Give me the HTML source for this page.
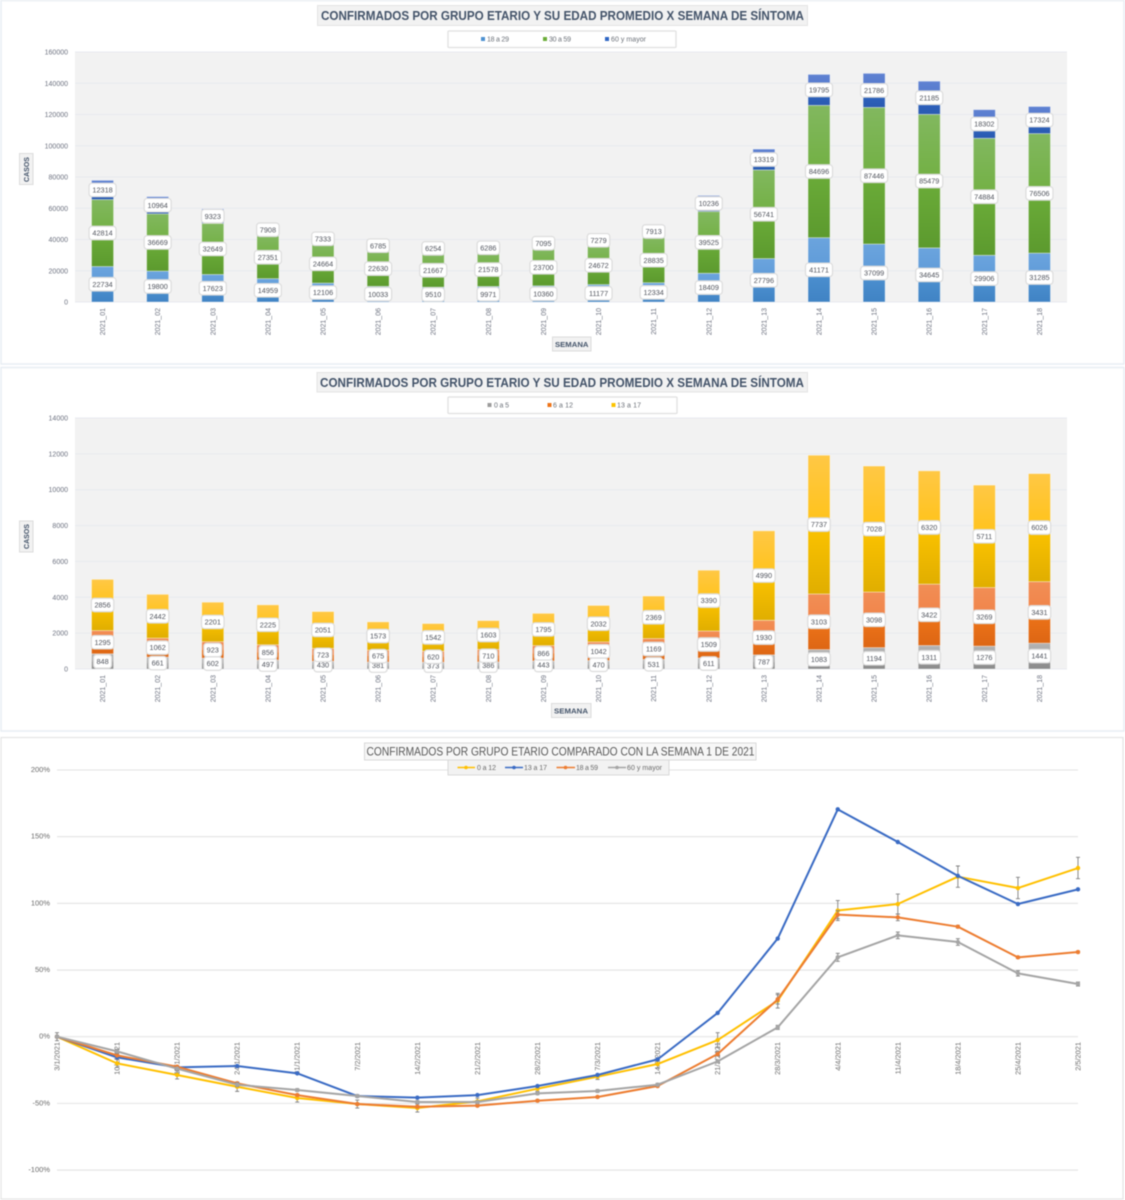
<!DOCTYPE html>
<html lang="es">
<head>
<meta charset="utf-8">
<title>Confirmados por grupo etario</title>
<style>
html,body{margin:0;padding:0;background:#fff;width:1125px;height:1200px;overflow:hidden}
svg{display:block;filter:blur(.4px)}
text{font-family:"Liberation Sans",sans-serif}
</style>
</head>
<body>
<svg xmlns="http://www.w3.org/2000/svg" id="dashboard" width="1125" height="1200" viewBox="0 0 1125 1200">
  <defs>
    <linearGradient id="g-blue" x1="0" y1="0" x2="0" y2="1"><stop offset="0" stop-color="#6ba4de"/><stop offset=".5" stop-color="#5f9bd8"/><stop offset=".5" stop-color="#4d91d1"/><stop offset="1" stop-color="#4083c4"/></linearGradient>
    <linearGradient id="g-green" x1="0" y1="0" x2="0" y2="1"><stop offset="0" stop-color="#82b85f"/><stop offset=".5" stop-color="#72b043"/><stop offset=".5" stop-color="#6bac39"/><stop offset="1" stop-color="#5c9a2e"/></linearGradient>
    <linearGradient id="g-navy" x1="0" y1="0" x2="0" y2="1"><stop offset="0" stop-color="#5f82d2"/><stop offset=".5" stop-color="#5478cc"/><stop offset=".5" stop-color="#2f66c4"/><stop offset="1" stop-color="#2a5ab0"/></linearGradient>
    <linearGradient id="g-gray" x1="0" y1="0" x2="0" y2="1"><stop offset="0" stop-color="#b3b3b3"/><stop offset=".5" stop-color="#a8a8a8"/><stop offset=".5" stop-color="#9c9c9c"/><stop offset="1" stop-color="#8a8a8a"/></linearGradient>
    <linearGradient id="g-orange" x1="0" y1="0" x2="0" y2="1"><stop offset="0" stop-color="#f28e55"/><stop offset=".5" stop-color="#f0844a"/><stop offset=".5" stop-color="#ee7419"/><stop offset="1" stop-color="#dd6614"/></linearGradient>
    <linearGradient id="g-yellow" x1="0" y1="0" x2="0" y2="1"><stop offset="0" stop-color="#ffc845"/><stop offset=".5" stop-color="#ffc31a"/><stop offset=".5" stop-color="#fcc300"/><stop offset="1" stop-color="#e0ae00"/></linearGradient>
  </defs>

  <!-- Panel 1 -->
  <g id="chart1">
    <rect x="1" y="0.5" width="1123" height="363.5" fill="#fff" stroke="#e8edf3" stroke-width="1.5"/>
    <rect x="75" y="52" width="992" height="250" fill="#f2f2f2"/>
    <g id="chart1-grid"></g>
    <g id="chart1-bars"></g>
    <g id="chart1-labels"></g>
    <g>
      <rect x="317.5" y="5.5" width="490" height="20" fill="#f2f2f2" stroke="#e4e4e4"/>
      <text x="321" y="20" font-size="12.5" font-weight="700" fill="#44546a" textLength="483" lengthAdjust="spacingAndGlyphs">CONFIRMADOS POR GRUPO ETARIO Y SU EDAD PROMEDIO X SEMANA DE SÍNTOMA</text>
    </g>
    <g>
      <rect x="448" y="31" width="228" height="16.5" fill="#fff" stroke="#e0e0e0" stroke-width="1.3" rx="1"/>
      <g><rect x="481" y="37" width="4" height="4" fill="#4d91d1"/><text x="487" y="41.5" font-size="7" fill="#6b7078" textLength="22">18 a 29</text></g>
      <g><rect x="543" y="37" width="4" height="4" fill="#6bac39"/><text x="549" y="41.5" font-size="7" fill="#6b7078" textLength="22">30 a 59</text></g>
      <g><rect x="605" y="37" width="4" height="4" fill="#2f66c4"/><text x="611" y="41.5" font-size="7" fill="#6b7078" textLength="35">60 y mayor</text></g>
    </g>
    <g>
      <rect x="19.5" y="153.5" width="13.5" height="31" fill="#f2f2f2" stroke="#dcdcdc"/>
      <text transform="translate(29 182) rotate(-90)" font-size="7.5" font-weight="700" fill="#44546a" textLength="25" lengthAdjust="spacingAndGlyphs">CASOS</text>
    </g>
    <g>
      <rect x="552.5" y="337" width="38.5" height="14" fill="#f2f2f2" stroke="#dcdcdc"/>
      <text x="555" y="347" font-size="7.5" font-weight="700" fill="#44546a" textLength="33.5" lengthAdjust="spacingAndGlyphs">SEMANA</text>
    </g>
  </g>

  <!-- Panel 2 -->
  <g id="chart2">
    <rect x="1" y="367.5" width="1123" height="363.5" fill="#fff" stroke="#e8edf3" stroke-width="1.5"/>
    <rect x="75" y="418" width="992" height="251" fill="#f2f2f2"/>
    <g id="chart2-grid"></g>
    <g id="chart2-bars"></g>
    <g id="chart2-labels"></g>
    <g>
      <rect x="317" y="372.5" width="490.5" height="19.5" fill="#f2f2f2" stroke="#e4e4e4"/>
      <text x="320" y="387" font-size="12.5" font-weight="700" fill="#44546a" textLength="484" lengthAdjust="spacingAndGlyphs">CONFIRMADOS POR GRUPO ETARIO Y SU EDAD PROMEDIO X SEMANA DE SÍNTOMA</text>
    </g>
    <g>
      <rect x="448" y="397" width="229" height="16.5" fill="#fff" stroke="#e0e0e0" stroke-width="1.3" rx="1"/>
      <g><rect x="487.5" y="403" width="4" height="4" fill="#9c9c9c"/><text x="494" y="407.5" font-size="7" fill="#6b7078" textLength="15">0 a 5</text></g>
      <g><rect x="547.5" y="403" width="4" height="4" fill="#ee7419"/><text x="553" y="407.5" font-size="7" fill="#6b7078" textLength="20">6 a 12</text></g>
      <g><rect x="611.5" y="403" width="4" height="4" fill="#fcc300"/><text x="617" y="407.5" font-size="7" fill="#6b7078" textLength="24">13 a 17</text></g>
    </g>
    <g>
      <rect x="19.5" y="521" width="13.5" height="31" fill="#f2f2f2" stroke="#dcdcdc"/>
      <text transform="translate(29 549) rotate(-90)" font-size="7.5" font-weight="700" fill="#44546a" textLength="25" lengthAdjust="spacingAndGlyphs">CASOS</text>
    </g>
    <g>
      <rect x="551.5" y="703.5" width="39.5" height="14" fill="#f2f2f2" stroke="#dcdcdc"/>
      <text x="554" y="713.5" font-size="7.5" font-weight="700" fill="#44546a" textLength="34" lengthAdjust="spacingAndGlyphs">SEMANA</text>
    </g>
  </g>

  <!-- Panel 3 -->
  <g id="chart3">
    <rect x="1" y="737.5" width="1122" height="461.5" fill="#fff" stroke="#e4e4e4" stroke-width="1.2"/>
    <g id="chart3-grid"></g>
    <g id="chart3-xlabels"></g>
    <g id="chart3-lines"></g>
    <g>
      <rect x="364.5" y="743" width="391.5" height="17" fill="#f7f7f7" stroke="#d9d9d9"/>
      <text x="366.5" y="755.5" font-size="11.5" fill="#595959" textLength="388" lengthAdjust="spacingAndGlyphs">CONFIRMADOS POR GRUPO ETARIO COMPARADO CON LA SEMANA 1 DE 2021</text>
    </g>
    <g>
      <rect x="448" y="760" width="221" height="15" fill="#f2f2f2" stroke="#d9d9d9"/>
      <g><line x1="457.5" y1="767.5" x2="475" y2="767.5" stroke="#ffc000" stroke-width="1.6"/><circle cx="466" cy="767.5" r="1.8" fill="#ffc000"/><text x="477" y="770" font-size="7" fill="#6b6b6b" textLength="19">0 a 12</text></g>
      <g><line x1="505" y1="767.5" x2="523" y2="767.5" stroke="#3a6bc4" stroke-width="1.6"/><circle cx="514" cy="767.5" r="1.8" fill="#3a6bc4"/><text x="524" y="770" font-size="7" fill="#6b6b6b" textLength="23">13 a 17</text></g>
      <g><line x1="556.5" y1="767.5" x2="575" y2="767.5" stroke="#ed7d31" stroke-width="1.6"/><circle cx="565.5" cy="767.5" r="1.8" fill="#ed7d31"/><text x="576" y="770" font-size="7" fill="#6b6b6b" textLength="22">18 a 59</text></g>
      <g><line x1="608" y1="767.5" x2="626" y2="767.5" stroke="#a5a5a5" stroke-width="1.6"/><circle cx="617" cy="767.5" r="1.8" fill="#a5a5a5"/><text x="627" y="770" font-size="7" fill="#6b6b6b" textLength="35">60 y mayor</text></g>
    </g>
  </g>
</svg>

<script>
// ---- Chart 1 data ----
const weeks = ['2021_01','2021_02','2021_03','2021_04','2021_05','2021_06','2021_07','2021_08','2021_09','2021_10','2021_11','2021_12','2021_13','2021_14','2021_15','2021_16','2021_17','2021_18'];
const ticksAdults = [0,20000,40000,60000,80000,100000,120000,140000,160000];
const cases18to29 = [22734,19800,17623,14959,12106,10033,9510,9971,10360,11177,12334,18409,27796,41171,37099,34645,29906,31285];
const cases30to59 = [42814,36669,32649,27351,24664,22630,21667,21578,23700,24672,28835,39525,56741,84696,87446,85479,74884,76506];
const cases60plus = [12318,10964,9323,7908,7333,6785,6254,6286,7095,7279,7913,10236,13319,19795,21786,21185,18302,17324];

// ---- Chart 2 data ----
const ticksMinors = [0,2000,4000,6000,8000,10000,12000,14000];
const cases0to5 = [848,661,602,497,430,381,373,386,443,470,531,611,787,1083,1194,1311,1276,1441];
const cases6to12 = [1295,1062,923,856,723,675,620,710,866,1042,1169,1509,1930,3103,3098,3422,3269,3431];
const cases13to17 = [2856,2442,2201,2225,2051,1573,1542,1603,1795,2032,2369,3390,4990,7737,7028,6320,5711,6026];

// ---- Chart 3 data ----
const dates = ['3/1/2021','10/1/2021','17/1/2021','24/1/2021','31/1/2021','7/2/2021','14/2/2021','21/2/2021','28/2/2021','7/3/2021','14/3/2021','21/3/2021','28/3/2021','4/4/2021','11/4/2021','18/4/2021','25/4/2021','2/5/2021'];
const ticksPct = [-100,-50,0,50,100,150,200];
const pct0to12 = [0,-20,-28.7,-37.5,-46,-50.5,-53.5,-48.5,-39,-30,-20.5,-2.5,27,94.6,99.5,120,111.5,126.5];
const pct13to17 = [0,-15.5,-23,-22,-27.5,-44.5,-45.7,-43.8,-37,-28.7,-17,17.8,73.6,170.5,146,120.6,99.5,110.5];
const pct18to59 = [0,-14,-22.5,-35,-43.8,-50.5,-52.5,-51.7,-48,-45.2,-37,-13,28,91.5,89.5,82.5,59.5,63.5];
const pct60plus = [0,-11,-24,-36,-40,-44.5,-49,-49,-42.5,-40.7,-36,-18.5,7,59.5,76,71,47.5,39.5];
const err0to12 = [3,3,3,3.5,3,3,3,2.5,2,2,3,5.5,5.5,7.5,7.5,8,8,8];
const err18to59 = [.8,.8,.8,1,.8,.8,.8,.8,.8,.8,.8,1.5,3.5,3,2.5,1,.8,.8];
const err60plus = [1,1.5,1,1.5,1,1,1,1,1,1,1,1,1.5,3,2.5,2.5,2,1.5];

const NS = 'http://www.w3.org/2000/svg';
function mk(tag, attrs, parent, txt) {
  const el = document.createElementNS(NS, tag);
  for (const k in attrs) el.setAttribute(k, attrs[k]);
  if (txt !== undefined) el.textContent = txt;
  parent.appendChild(el);
  return el;
}

function stackedChart(prefix, cfg) {
  const gridG = document.getElementById(prefix + '-grid');
  const barsG = document.getElementById(prefix + '-bars');
  const labelsG = document.getElementById(prefix + '-labels');
  const x = function (i) { return cfg.left + (cfg.right - cfg.left) * (i + .5) / weeks.length; };
  const y = function (v) { return cfg.bottom - (cfg.bottom - cfg.top) * v / cfg.max; };

  cfg.ticks.forEach(function (t) {
    const line = mk('line', {x1: cfg.left, x2: cfg.right, y1: y(t), y2: y(t), stroke: '#e7eaef', 'stroke-width': 1}, gridG);
    
    
    const lab = mk('text', {x: 68, y: y(t) + 2.5, 'text-anchor': 'end', 'font-size': 7, fill: '#6d7280'}, gridG, String(t));
    
    
  });

  weeks.forEach(function (w, i) {
    const cx = x(i);
    const lab = mk('text', {transform: 'translate(' + (cx + 2.5) + ' ' + cfg.tickTop + ') rotate(-90)', 'text-anchor': 'end', 'font-size': 7, fill: '#6d7280'}, gridG, w);
    
    
    let base = 0;
    cfg.series.forEach(function (s) {
      const v = s.values[i];
      const rect = mk('rect', {x: cx - 11, y: y(base + v), width: 22, height: y(base) - y(base + v), fill: 'url(#' + s.grad + ')', stroke: 'rgba(255,255,255,.45)', 'stroke-width': .8}, barsG);
      
      
      base += v;
    });
  });

  // labels are drawn series by series so later series overlap earlier ones
  cfg.series.forEach(function (s) {
    let i = 0;
    for (i = 0; i < weeks.length; i++) {
      let base = 0;
      for (const o of cfg.series) { if (o === s) break; base += o.values[i]; }
      const v = s.values[i];
      const txt = String(v);
      const w = txt.length * 4.5 + 4.5;
      const cx = x(i);
      const cy = y(base + v / 2);
      const g = mk('g', {}, labelsG);
      
      
      mk('rect', {x: cx - w / 2, y: cy - 6.75, width: w, height: 13.5, rx: 3, fill: '#fff', stroke: '#dcdcdc', 'stroke-width': 1.2}, g);
      mk('text', {x: cx, y: cy + 2.6, 'text-anchor': 'middle', 'font-size': 7.3, fill: '#50545d'}, g, txt);
    }
  });
}

stackedChart('chart1', {
  left: 75, right: 1067, top: 52, bottom: 302, max: 160000, tickTop: 308, ticks: ticksAdults,
  series: [
    {name: '18-a-29', grad: 'g-blue', values: cases18to29},
    {name: '30-a-59', grad: 'g-green', values: cases30to59},
    {name: '60-y-mayor', grad: 'g-navy', values: cases60plus}
  ]
});
stackedChart('chart2', {
  left: 75, right: 1067, top: 418, bottom: 669, max: 14000, tickTop: 675, ticks: ticksMinors,
  series: [
    {name: '0-a-5', grad: 'g-gray', values: cases0to5},
    {name: '6-a-12', grad: 'g-orange', values: cases6to12},
    {name: '13-a-17', grad: 'g-yellow', values: cases13to17}
  ]
});

// ---- Line chart ----
(function () {
  const gridG = document.getElementById('chart3-grid');
  const xG = document.getElementById('chart3-xlabels');
  const linesG = document.getElementById('chart3-lines');
  const x = function (i) { return 57 + (1078 - 57) * i / (dates.length - 1); };
  const y = function (p) { return 1036.7 - p * 1.3335; };

  ticksPct.forEach(function (t) {
    const line = mk('line', {x1: 57, x2: 1078, y1: y(t), y2: y(t), stroke: t === 0 ? '#ececec' : '#e3e3e3', 'stroke-width': t === 0 ? 1.6 : 1.1}, gridG);
    
    
    const lab = mk('text', {x: 50, y: y(t) + 2, 'text-anchor': 'end', 'font-size': 7.5, fill: '#6b6b6b'}, gridG, t + '%');
    
    
  });

  dates.forEach(function (d, i) {
    const lab = mk('text', {transform: 'translate(' + (x(i) + 2.5) + ' 1042) rotate(-90)', 'text-anchor': 'end', 'font-size': 7.4, fill: '#6b6b6b'}, xG, d);
    
    
  });

  const series = [
    {name: '0-a-12', color: '#ffc000', values: pct0to12, errs: err0to12},
    {name: '13-a-17', color: '#3a6bc4', values: pct13to17, errs: null},
    {name: '18-a-59', color: '#ed7d31', values: pct18to59, errs: err18to59},
    {name: '60-y-mayor', color: '#a5a5a5', values: pct60plus, errs: err60plus}
  ];
  series.forEach(function (s) {
    const g = mk('g', {}, linesG);
    
    
    if (s.errs) {
      s.values.forEach(function (v, i) {
        const e = s.errs[i];
        const px = x(i);
        const d = 'M' + (px - 2) + ' ' + y(v + e) + 'H' + (px + 2) + 'M' + px + ' ' + y(v + e) + 'V' + y(v - e) + 'M' + (px - 2) + ' ' + y(v - e) + 'H' + (px + 2);
        const bar = mk('path', {d: d, stroke: '#7f7f7f', 'stroke-width': .9, fill: 'none'}, g);
        
        
      });
    }
    const pts = s.values.map(function (v, i) { return x(i) + ',' + y(v); }).join(' ');
    const line = mk('polyline', {points: pts, fill: 'none', stroke: s.color, 'stroke-width': 2, 'stroke-linejoin': 'round'}, g);
    
    
    s.values.forEach(function (v, i) {
      const dot = mk('circle', {cx: x(i), cy: y(v), r: 2.2, fill: s.color}, g);
      
      
    });
  });
})();
</script>
</body>
</html>
